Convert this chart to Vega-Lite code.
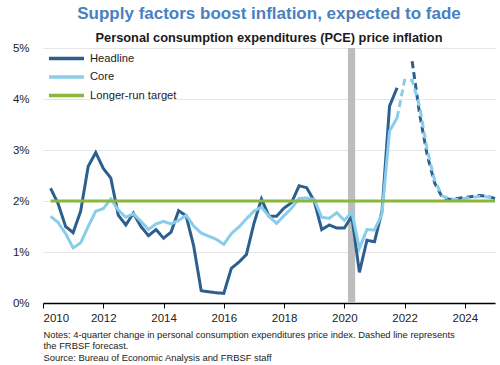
{
  "$schema": "https://vega.github.io/schema/vega-lite/v6.json",
  "width": 452,
  "height": 255,
  "autosize": {"type": "none"},
  "padding": {"left": 43, "top": 48, "right": 5, "bottom": 62},
  "background": "white",
  "config": {
    "font": "Liberation Sans",
    "view": {"stroke": null},
    "axis": {"labelFont": "Liberation Sans", "titleFont": "Liberation Sans"},
    "legend": {"labelFont": "Liberation Sans"}
  },
  "title": {
    "text": "Supply factors boost inflation, expected to fade",
    "subtitle": "Personal consumption expenditures (PCE) price inflation",
    "anchor": "middle",
    "frame": "group",
    "font": "Liberation Sans",
    "fontSize": 17,
    "fontWeight": "bold",
    "color": "#4A80C0",
    "subtitleFont": "Liberation Sans",
    "subtitleFontSize": 12.8,
    "subtitleFontWeight": "bold",
    "subtitleColor": "#1a1a1a",
    "subtitlePadding": 9,
    "offset": -4
  },
  "layer": [
    {
      "data": {"values": [{"start": 2020.12, "end": 2020.36}]},
      "mark": {"type": "rect", "color": "#BDBDBD"},
      "encoding": {
        "x": {"field": "start", "type": "quantitative", "scale": {"domain": [2010, 2025], "nice": false, "zero": false},
          "axis": {
            "values": [2010, 2012, 2014, 2016, 2018, 2020, 2022, 2024],
            "format": "d",
            "grid": false,
            "domainColor": "#000000",
            "domainWidth": 1.5,
            "tickColor": "#000000",
            "tickWidth": 1,
            "tickSize": 5,
            "labelFontSize": 11.5,
            "labelColor": "#222222",
            "labelPadding": 4,
            "title": ["Notes: 4-quarter change in personal consumption expenditures price index. Dashed line represents", "the FRBSF forecast.", "Source: Bureau of Economic Analysis and FRBSF staff"],
            "titleFontSize": 9.4,
            "titleFontWeight": "normal",
            "titleColor": "#222222",
            "titleAnchor": "start",
            "titleAlign": "left",
            "titleBaseline": "alphabetic",
            "titleX": 0,
            "titleY": 34,
            "titleLineHeight": 11.7
          }},
        "x2": {"field": "end"},
        "y": {"datum": 0, "type": "quantitative", "scale": {"domain": [0, 5], "nice": false},
          "axis": {
            "values": [0, 1, 2, 3, 4, 5],
            "labelExpr": "datum.value + '%'",
            "grid": true,
            "gridColor": "#E6E6E6",
            "gridWidth": 1,
            "domain": false,
            "ticks": false,
            "labelFontSize": 11.5,
            "labelColor": "#222222",
            "labelPadding": 14,
            "title": null
          }},
        "y2": {"datum": 5}
      }
    },
    {
      "data": {"values": [
        {"date": 2010.25, "value": 2.25, "series": "Headline", "kind": "actual"},
        {"date": 2010.5, "value": 1.95, "series": "Headline", "kind": "actual"},
        {"date": 2010.75, "value": 1.5, "series": "Headline", "kind": "actual"},
        {"date": 2011.0, "value": 1.38, "series": "Headline", "kind": "actual"},
        {"date": 2011.25, "value": 1.8, "series": "Headline", "kind": "actual"},
        {"date": 2011.5, "value": 2.68, "series": "Headline", "kind": "actual"},
        {"date": 2011.75, "value": 2.95, "series": "Headline", "kind": "actual"},
        {"date": 2012.0, "value": 2.64, "series": "Headline", "kind": "actual"},
        {"date": 2012.25, "value": 2.45, "series": "Headline", "kind": "actual"},
        {"date": 2012.5, "value": 1.72, "series": "Headline", "kind": "actual"},
        {"date": 2012.75, "value": 1.53, "series": "Headline", "kind": "actual"},
        {"date": 2013.0, "value": 1.76, "series": "Headline", "kind": "actual"},
        {"date": 2013.25, "value": 1.5, "series": "Headline", "kind": "actual"},
        {"date": 2013.5, "value": 1.32, "series": "Headline", "kind": "actual"},
        {"date": 2013.75, "value": 1.44, "series": "Headline", "kind": "actual"},
        {"date": 2014.0, "value": 1.27, "series": "Headline", "kind": "actual"},
        {"date": 2014.25, "value": 1.39, "series": "Headline", "kind": "actual"},
        {"date": 2014.5, "value": 1.81, "series": "Headline", "kind": "actual"},
        {"date": 2014.75, "value": 1.71, "series": "Headline", "kind": "actual"},
        {"date": 2015.0, "value": 1.12, "series": "Headline", "kind": "actual"},
        {"date": 2015.25, "value": 0.24, "series": "Headline", "kind": "actual"},
        {"date": 2015.5, "value": 0.22, "series": "Headline", "kind": "actual"},
        {"date": 2015.75, "value": 0.2, "series": "Headline", "kind": "actual"},
        {"date": 2016.0, "value": 0.19, "series": "Headline", "kind": "actual"},
        {"date": 2016.25, "value": 0.68, "series": "Headline", "kind": "actual"},
        {"date": 2016.5, "value": 0.8, "series": "Headline", "kind": "actual"},
        {"date": 2016.75, "value": 0.95, "series": "Headline", "kind": "actual"},
        {"date": 2017.0, "value": 1.56, "series": "Headline", "kind": "actual"},
        {"date": 2017.25, "value": 2.04, "series": "Headline", "kind": "actual"},
        {"date": 2017.5, "value": 1.7, "series": "Headline", "kind": "actual"},
        {"date": 2017.75, "value": 1.7, "series": "Headline", "kind": "actual"},
        {"date": 2018.0, "value": 1.86, "series": "Headline", "kind": "actual"},
        {"date": 2018.25, "value": 1.97, "series": "Headline", "kind": "actual"},
        {"date": 2018.5, "value": 2.3, "series": "Headline", "kind": "actual"},
        {"date": 2018.75, "value": 2.26, "series": "Headline", "kind": "actual"},
        {"date": 2019.0, "value": 2.0, "series": "Headline", "kind": "actual"},
        {"date": 2019.25, "value": 1.44, "series": "Headline", "kind": "actual"},
        {"date": 2019.5, "value": 1.53, "series": "Headline", "kind": "actual"},
        {"date": 2019.75, "value": 1.47, "series": "Headline", "kind": "actual"},
        {"date": 2020.0, "value": 1.47, "series": "Headline", "kind": "actual"},
        {"date": 2020.25, "value": 1.7, "series": "Headline", "kind": "actual"},
        {"date": 2020.5, "value": 0.6, "series": "Headline", "kind": "actual"},
        {"date": 2020.75, "value": 1.23, "series": "Headline", "kind": "actual"},
        {"date": 2021.0, "value": 1.2, "series": "Headline", "kind": "actual"},
        {"date": 2021.25, "value": 1.8, "series": "Headline", "kind": "actual"},
        {"date": 2021.5, "value": 3.86, "series": "Headline", "kind": "actual"},
        {"date": 2021.75, "value": 4.22, "series": "Headline", "kind": "actual"},
        {"date": 2022.25, "value": 4.74, "series": "Headline", "kind": "forecast"},
        {"date": 2022.5, "value": 3.7, "series": "Headline", "kind": "forecast"},
        {"date": 2022.75, "value": 2.9, "series": "Headline", "kind": "forecast"},
        {"date": 2023.0, "value": 2.35, "series": "Headline", "kind": "forecast"},
        {"date": 2023.25, "value": 2.07, "series": "Headline", "kind": "forecast"},
        {"date": 2023.5, "value": 2.03, "series": "Headline", "kind": "forecast"},
        {"date": 2023.75, "value": 2.05, "series": "Headline", "kind": "forecast"},
        {"date": 2024.0, "value": 2.07, "series": "Headline", "kind": "forecast"},
        {"date": 2024.25, "value": 2.09, "series": "Headline", "kind": "forecast"},
        {"date": 2024.5, "value": 2.11, "series": "Headline", "kind": "forecast"},
        {"date": 2024.75, "value": 2.09, "series": "Headline", "kind": "forecast"},
        {"date": 2025.0, "value": 2.05, "series": "Headline", "kind": "forecast"},
        {"date": 2010.25, "value": 1.7, "series": "Core", "kind": "actual"},
        {"date": 2010.5, "value": 1.58, "series": "Core", "kind": "actual"},
        {"date": 2010.75, "value": 1.36, "series": "Core", "kind": "actual"},
        {"date": 2011.0, "value": 1.08, "series": "Core", "kind": "actual"},
        {"date": 2011.25, "value": 1.18, "series": "Core", "kind": "actual"},
        {"date": 2011.5, "value": 1.5, "series": "Core", "kind": "actual"},
        {"date": 2011.75, "value": 1.8, "series": "Core", "kind": "actual"},
        {"date": 2012.0, "value": 1.85, "series": "Core", "kind": "actual"},
        {"date": 2012.25, "value": 2.04, "series": "Core", "kind": "actual"},
        {"date": 2012.5, "value": 1.82, "series": "Core", "kind": "actual"},
        {"date": 2012.75, "value": 1.68, "series": "Core", "kind": "actual"},
        {"date": 2013.0, "value": 1.75, "series": "Core", "kind": "actual"},
        {"date": 2013.25, "value": 1.6, "series": "Core", "kind": "actual"},
        {"date": 2013.5, "value": 1.44, "series": "Core", "kind": "actual"},
        {"date": 2013.75, "value": 1.55, "series": "Core", "kind": "actual"},
        {"date": 2014.0, "value": 1.6, "series": "Core", "kind": "actual"},
        {"date": 2014.25, "value": 1.55, "series": "Core", "kind": "actual"},
        {"date": 2014.5, "value": 1.62, "series": "Core", "kind": "actual"},
        {"date": 2014.75, "value": 1.72, "series": "Core", "kind": "actual"},
        {"date": 2015.0, "value": 1.51, "series": "Core", "kind": "actual"},
        {"date": 2015.25, "value": 1.37, "series": "Core", "kind": "actual"},
        {"date": 2015.5, "value": 1.31, "series": "Core", "kind": "actual"},
        {"date": 2015.75, "value": 1.25, "series": "Core", "kind": "actual"},
        {"date": 2016.0, "value": 1.15, "series": "Core", "kind": "actual"},
        {"date": 2016.25, "value": 1.36, "series": "Core", "kind": "actual"},
        {"date": 2016.5, "value": 1.49, "series": "Core", "kind": "actual"},
        {"date": 2016.75, "value": 1.65, "series": "Core", "kind": "actual"},
        {"date": 2017.0, "value": 1.8, "series": "Core", "kind": "actual"},
        {"date": 2017.25, "value": 1.88, "series": "Core", "kind": "actual"},
        {"date": 2017.5, "value": 1.7, "series": "Core", "kind": "actual"},
        {"date": 2017.75, "value": 1.56, "series": "Core", "kind": "actual"},
        {"date": 2018.0, "value": 1.71, "series": "Core", "kind": "actual"},
        {"date": 2018.25, "value": 1.86, "series": "Core", "kind": "actual"},
        {"date": 2018.5, "value": 2.05, "series": "Core", "kind": "actual"},
        {"date": 2018.75, "value": 2.06, "series": "Core", "kind": "actual"},
        {"date": 2019.0, "value": 2.03, "series": "Core", "kind": "actual"},
        {"date": 2019.25, "value": 1.68, "series": "Core", "kind": "actual"},
        {"date": 2019.5, "value": 1.66, "series": "Core", "kind": "actual"},
        {"date": 2019.75, "value": 1.77, "series": "Core", "kind": "actual"},
        {"date": 2020.0, "value": 1.62, "series": "Core", "kind": "actual"},
        {"date": 2020.25, "value": 1.78, "series": "Core", "kind": "actual"},
        {"date": 2020.5, "value": 1.07, "series": "Core", "kind": "actual"},
        {"date": 2020.75, "value": 1.44, "series": "Core", "kind": "actual"},
        {"date": 2021.0, "value": 1.43, "series": "Core", "kind": "actual"},
        {"date": 2021.25, "value": 1.75, "series": "Core", "kind": "actual"},
        {"date": 2021.5, "value": 3.37, "series": "Core", "kind": "actual"},
        {"date": 2021.75, "value": 3.63, "series": "Core", "kind": "actual"},
        {"date": 2021.75, "value": 3.63, "series": "Core", "kind": "forecast"},
        {"date": 2022.0, "value": 4.37, "series": "Core", "kind": "forecast"},
        {"date": 2022.25, "value": 4.37, "series": "Core", "kind": "forecast"},
        {"date": 2022.5, "value": 3.85, "series": "Core", "kind": "forecast"},
        {"date": 2022.75, "value": 3.0, "series": "Core", "kind": "forecast"},
        {"date": 2023.0, "value": 2.4, "series": "Core", "kind": "forecast"},
        {"date": 2023.25, "value": 2.1, "series": "Core", "kind": "forecast"},
        {"date": 2023.5, "value": 2.04, "series": "Core", "kind": "forecast"},
        {"date": 2023.75, "value": 2.03, "series": "Core", "kind": "forecast"},
        {"date": 2024.0, "value": 2.05, "series": "Core", "kind": "forecast"},
        {"date": 2024.25, "value": 2.07, "series": "Core", "kind": "forecast"},
        {"date": 2024.5, "value": 2.09, "series": "Core", "kind": "forecast"},
        {"date": 2024.75, "value": 2.08, "series": "Core", "kind": "forecast"},
        {"date": 2025.0, "value": 2.05, "series": "Core", "kind": "forecast"}
      ]},
      "mark": {"type": "line", "strokeWidth": 3, "strokeCap": "butt", "strokeJoin": "miter"},
      "encoding": {
        "x": {"field": "date", "type": "quantitative"},
        "y": {"field": "value", "type": "quantitative"},
        "color": {"field": "series", "type": "nominal",
          "scale": {"domain": ["Headline", "Core", "Longer-run target"], "range": ["#2C5F8E", "#8ACDEA", "#8AB83E"]},
          "legend": {
            "orient": "none",
            "legendX": 4,
            "legendY": 1.5,
            "padding": 0,
            "title": null,
            "symbolType": "M-1,0H4",
            "symbolStrokeWidth": 3.5,
            "symbolSize": 196,
            "labelFontSize": 11.2,
            "labelColor": "#222222",
            "labelOffset": 25,
            "rowPadding": 2.5
          }},
        "strokeDash": {"field": "kind", "type": "nominal",
          "scale": {"domain": ["actual", "forecast"], "range": [[1, 0], [7, 4]]},
          "legend": null},
        "order": {"field": "date", "type": "quantitative"}
      }
    },
    {
      "data": {"values": [{"series": "Longer-run target", "start": 2010.25, "end": 2025, "value": 2}]},
      "mark": {"type": "rule", "strokeWidth": 3},
      "encoding": {
        "x": {"field": "start", "type": "quantitative"},
        "x2": {"field": "end"},
        "y": {"field": "value", "type": "quantitative"},
        "color": {"field": "series", "type": "nominal"}
      }
    }
  ]
}
